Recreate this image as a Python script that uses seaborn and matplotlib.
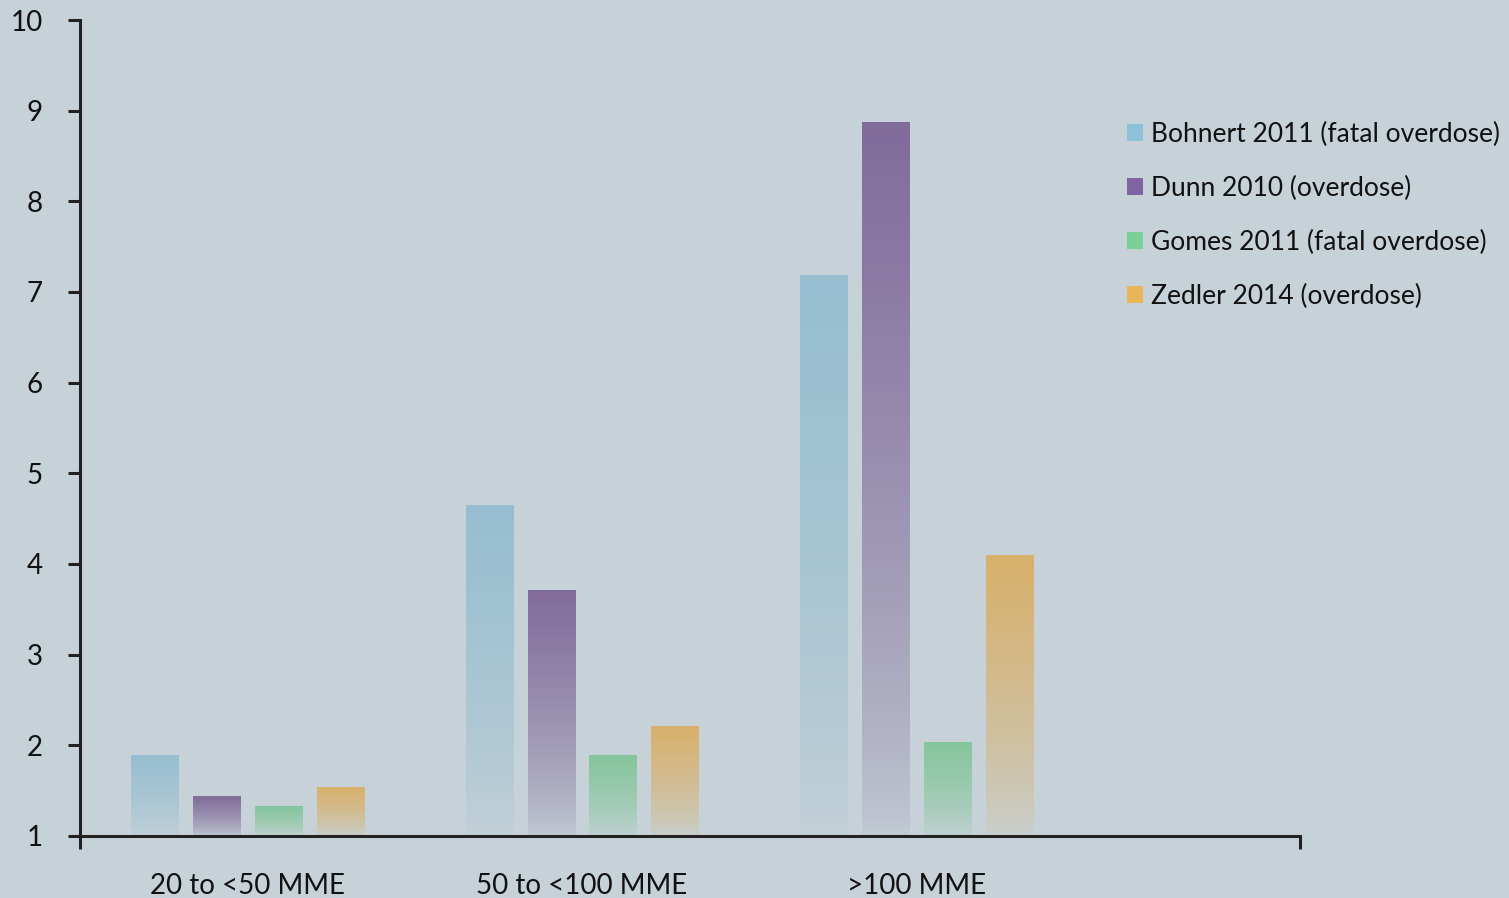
import numpy as np
import pandas as pd
import matplotlib
matplotlib.use("Agg")
import matplotlib.pyplot as plt
from matplotlib.patches import Patch
from matplotlib.colors import to_rgb
import seaborn as sns

categories = ["20 to <50 MME", "50 to <100 MME", ">100 MME"]
studies = ["Bohnert 2011 (fatal overdose)", "Dunn 2010 (overdose)",
           "Gomes 2011 (fatal overdose)", "Zedler 2014 (overdose)"]
bohnert = [1.89, 4.65, 7.18]
dunn = [1.44, 3.71, 8.87]
gomes = [1.33, 1.89, 2.03]
zedler = [1.53, 2.21, 4.09]
colors = ["#8DC1DA", "#8064A2", "#7AD098", "#EAB559"]
bg = "#C7D2D8"

rows = []
for s, vals in zip(studies, [bohnert, dunn, gomes, zedler]):
    for c, v in zip(categories, vals):
        rows.append({"category": c, "study": s, "value": v})
df = pd.DataFrame(rows)

sns.set_theme(style="white")
plt.rcParams["font.family"] = ["Lato", "DejaVu Sans"]

fig = plt.figure(figsize=(15.09, 8.98), dpi=100, facecolor=bg)
ax = fig.add_axes([80 / 1509, 62 / 898, 1220 / 1509, 816 / 898])
ax.set_facecolor(bg)

sns.barplot(data=df, x="category", y="value", hue="study", order=categories,
            hue_order=studies, palette=colors, width=0.74, gap=0.24,
            legend=False, ax=ax)

# gradient fills
bg_rgb = np.array(to_rgb(bg))
n = 256
for patch in ax.patches:
    col = np.array(to_rgb(patch.get_facecolor()))
    x0 = patch.get_x()
    w = patch.get_width()
    h = patch.get_height()
    t = np.linspace(0, 1, n)[:, None]  # 0 bottom, 1 top
    a = 0.06 + 0.94 * t ** 0.7
    grad = a[..., None] * col[None, None, :] + (1 - a[..., None]) * bg_rgb[None, None, :]
    grad = np.repeat(grad, 2, axis=1)
    ax.imshow(grad, extent=[x0, x0 + w, 1, h], origin="lower",
              aspect="auto", zorder=2, interpolation="bilinear")
    patch.set_facecolor("none")
    patch.set_edgecolor("none")
ax.set_xlim(-0.5, 3.145)
ax.set_ylim(1, 10)

for sp in ["top", "right"]:
    ax.spines[sp].set_visible(False)
for sp in ["left", "bottom"]:
    ax.spines[sp].set_color("#222222")
    ax.spines[sp].set_linewidth(2.2)

ax.set_yticks(range(1, 11))
ax.tick_params(axis="y", which="major", direction="out", length=9, width=2.2,
               color="#222222", pad=18, labelsize=20, labelcolor="#111111", left=True)
ax.set_xticks(range(3))
ax.set_xticklabels(categories)
ax.tick_params(axis="x", which="major", length=0, pad=27, labelsize=20,
               labelcolor="#111111")
ax.set_xticks([-0.5, 3.145], minor=True)
ax.tick_params(axis="x", which="minor", direction="out", length=9, width=2.2,
               color="#222222", bottom=True)
ax.set_xlabel("")
ax.set_ylabel("")

handles = [Patch(facecolor=c, edgecolor="none") for c in colors]
fig.legend(handles, studies, loc="upper left",
           bbox_to_anchor=(1127 / 1509, 1 - 122 / 898), frameon=False,
           fontsize=19, labelspacing=1.09, handlelength=0.62, handleheight=0.62,
           handletextpad=0.3, borderaxespad=0, borderpad=0, labelcolor="#111111")

fig.savefig("out.png", dpi=100, facecolor=bg)
